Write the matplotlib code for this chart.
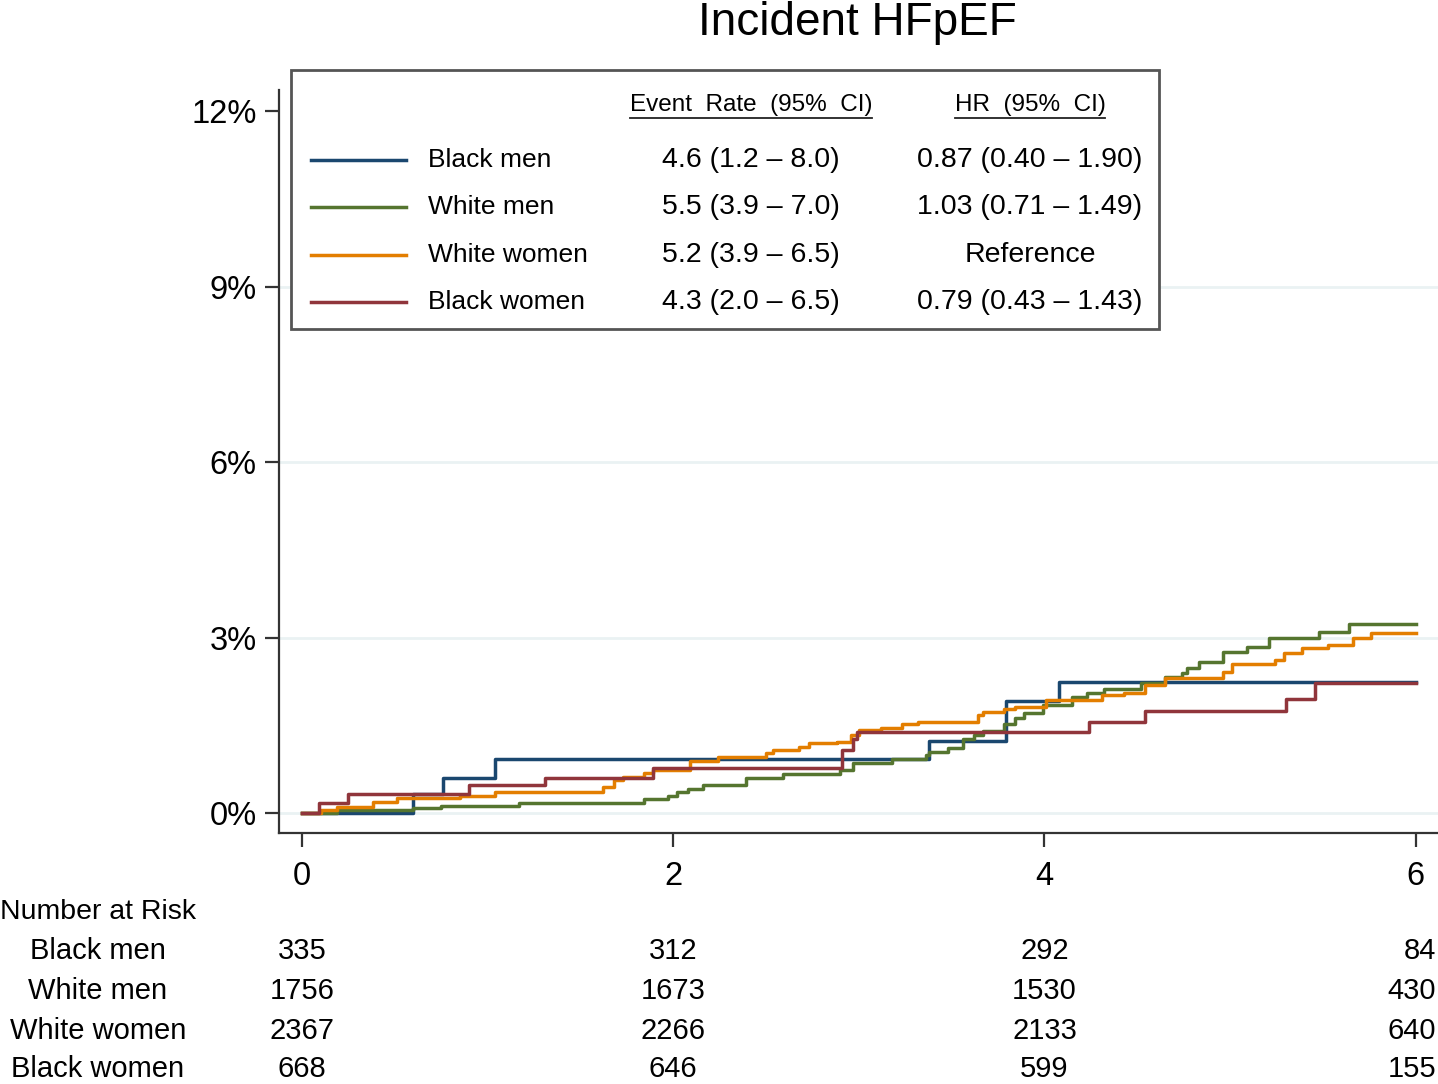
import matplotlib.pyplot as plt
import matplotlib.transforms as mtransforms
from matplotlib.lines import Line2D
from matplotlib.patches import Rectangle

plt.rcParams['font.family'] = ['Liberation Sans', 'DejaVu Sans']

# cumulative incidence (%), by years of follow-up
bm_t = [0, 0.60, 0.76, 1.04, 3.38, 3.79, 4.08, 6.0]
bm_y = [0, 0.32, 0.60, 0.92, 1.23, 1.91, 2.24, 2.24]

wm_t = [0, 0.19, 0.60, 0.75, 1.17, 1.84, 1.97, 2.02, 2.08, 2.16,
        2.39, 2.59, 2.90, 2.97, 3.18, 3.36, 3.38, 3.48, 3.56, 3.62,
        3.67, 3.78, 3.84, 3.89, 3.99, 4.15, 4.23, 4.32, 4.52, 4.65,
        4.74, 4.77, 4.83, 4.96, 5.09, 5.21, 5.48, 5.64, 6.0]
wm_y = [0, 0.05, 0.09, 0.12, 0.17, 0.24, 0.30, 0.36, 0.42, 0.48,
        0.60, 0.67, 0.73, 0.85, 0.92, 0.99, 1.04, 1.11, 1.26, 1.33,
        1.40, 1.52, 1.62, 1.71, 1.85, 1.98, 2.05, 2.12, 2.22, 2.32,
        2.39, 2.48, 2.58, 2.75, 2.84, 2.99, 3.09, 3.23, 3.23]

ww_t = [0, 0.10, 0.19, 0.38, 0.51, 0.85, 1.04, 1.62, 1.68, 1.73,
        1.84, 1.89, 2.09, 2.24, 2.50, 2.54, 2.68, 2.73, 2.88, 2.96,
        3.00, 3.12, 3.23, 3.32, 3.64, 3.67, 3.78, 3.84, 4.01, 4.31,
        4.43, 4.54, 4.65, 4.96, 5.01, 5.24, 5.29, 5.39, 5.53, 5.66,
        5.76, 6.0]
ww_y = [0, 0.05, 0.10, 0.19, 0.26, 0.29, 0.36, 0.44, 0.56, 0.61,
        0.68, 0.73, 0.89, 0.96, 1.03, 1.08, 1.13, 1.20, 1.21, 1.33,
        1.42, 1.45, 1.52, 1.56, 1.68, 1.73, 1.78, 1.81, 1.93, 2.02,
        2.05, 2.19, 2.31, 2.41, 2.55, 2.62, 2.74, 2.82, 2.87, 2.99,
        3.08, 3.08]

bw_t = [0, 0.09, 0.25, 0.90, 1.31, 1.89, 2.91, 2.97, 2.99, 4.24, 4.54, 5.30, 5.46, 6.0]
bw_y = [0, 0.17, 0.32, 0.48, 0.60, 0.77, 1.08, 1.26, 1.38, 1.56, 1.74, 1.95, 2.22, 2.22]

groups = ["Black men", "White men", "White women", "Black women"]
colors = ["#1a476f", "#55752f", "#e37e00", "#90353b"]
event_rate = ["4.6 (1.2 \u2013 8.0)", "5.5 (3.9 \u2013 7.0)", "5.2 (3.9 \u2013 6.5)", "4.3 (2.0 \u2013 6.5)"]
hazard_ratio = ["0.87 (0.40 \u2013 1.90)", "1.03 (0.71 \u2013 1.49)", "Reference", "0.79 (0.43 \u2013 1.43)"]

risk_times = [0, 2, 4, 6]
at_risk = [
    [335, 312, 292, 84],
    [1756, 1673, 1530, 430],
    [2367, 2266, 2133, 640],
    [668, 646, 599, 155],
]

yticks = [0, 3, 6, 9, 12]
xticks = [0, 2, 4, 6]

W, H = 1438, 1084
fig = plt.figure(figsize=(W / 100, H / 100), dpi=100)
ax = fig.add_axes([279 / W, 1 - 833 / H, (W - 279) / W, (833 - 90) / H])

curves = [(bm_t, bm_y), (wm_t, wm_y), (ww_t, ww_y), (bw_t, bw_y)]
for (t, y), c in zip(curves, colors):
    ax.step(t, y, where="post", color=c, lw=2.5, zorder=3)

ax.set_xlim(-0.124, 6.12)
ax.set_ylim(-0.34, 12.36)
ax.set_xticks(xticks)
ax.set_yticks(yticks)
ax.set_yticklabels([f"{v}%" for v in yticks])
for v in yticks[:-1]:
    ax.axhline(v, color="#eaf2f3", lw=2, zorder=1)

for s in ["top", "right"]:
    ax.spines[s].set_visible(False)
for s in ["left", "bottom"]:
    ax.spines[s].set_color("#333333")
    ax.spines[s].set_linewidth(1.6)
ax.tick_params(axis="both", length=10, width=1.6, color="#333333", labelsize=23.5)
ax.tick_params(axis="y", pad=6)
ax.tick_params(axis="x", pad=10)

fig.text(857 / W, 1 - 23 / H, "Incident HFpEF", ha="center", va="center", fontsize=33)

# legend box with event rates and hazard ratios
def fy(p):
    return 1 - p / H

box = Rectangle((291 / W, fy(329)), (1159 - 291) / W, (329 - 70) / H,
                transform=fig.transFigure, facecolor="white", edgecolor="#555555",
                lw=2, zorder=5)
fig.patches.append(box)

headers = [(751, "Event  Rate  (95%  CI)"), (1030, "HR  (95%  CI)")]
htexts = []
for x, s in headers:
    htexts.append(fig.text(x / W, fy(105), s, ha="center", va="center", fontsize=17.5, zorder=6))

rows_y = [160, 207, 255, 302]
for i, g in enumerate(groups):
    yy = fy(rows_y[i])
    fig.lines.append(Line2D([311 / W, 406 / W], [yy, yy], transform=fig.transFigure,
                            color=colors[i], lw=2.5, zorder=6))
    fig.text(428 / W, yy, g, ha="left", va="center", fontsize=19, zorder=6)
    fig.text(751 / W, yy, event_rate[i], ha="center", va="center", fontsize=20.5, zorder=6)
    fig.text(1030 / W, yy, hazard_ratio[i], ha="center", va="center", fontsize=20.5, zorder=6)

fig.canvas.draw()
r = fig.canvas.get_renderer()
for t in htexts:
    bb = t.get_window_extent(r).transformed(fig.transFigure.inverted())
    fig.lines.append(Line2D([bb.x0, bb.x1], [bb.y0 - 0.002, bb.y0 - 0.002],
                            transform=fig.transFigure, color="#222222", lw=1.3, zorder=6))

# number at risk table
trans = mtransforms.blended_transform_factory(ax.transData, fig.transFigure)
fig.text(0, fy(912), "Number at Risk", ha="left", va="center", fontsize=20.5)
risk_y = [951, 991, 1031, 1069]
for i, g in enumerate(groups):
    fig.text(98 / W, fy(risk_y[i]), g, ha="center", va="center", fontsize=21)
    for t, n in zip(risk_times, at_risk[i]):
        if t == risk_times[-1]:
            # last column sits against the right edge, as in the reference
            fig.text(1 - 2 / W, fy(risk_y[i]), str(n), ha="right", va="center", fontsize=21)
        else:
            ax.text(t, fy(risk_y[i]), str(n), transform=trans, ha="center", va="center",
                    fontsize=21, clip_on=False)

fig.savefig("out.png", dpi=100)
